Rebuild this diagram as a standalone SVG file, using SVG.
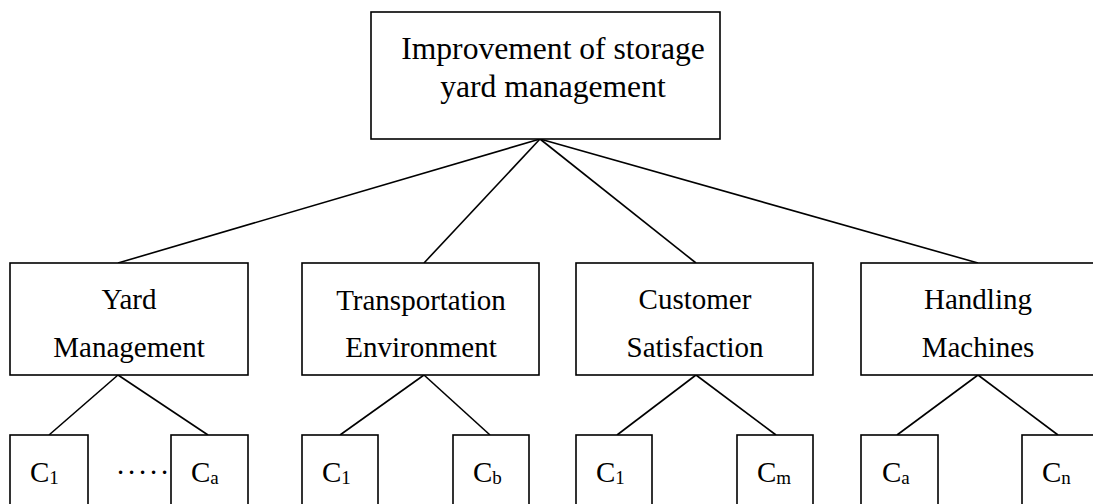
<svg xmlns="http://www.w3.org/2000/svg" width="1093" height="504" viewBox="0 0 1093 504">
<style>
rect{fill:#fff;stroke:#000;stroke-width:1.6}
line{stroke:#000;stroke-width:1.6}
text{font-family:"Liberation Serif","Times New Roman",serif;fill:#000}
.t{font-size:31.6px;text-anchor:middle}
.m{font-size:29px;text-anchor:middle}
.c{font-size:29px}
.s{font-size:19px}
</style>
<rect width="1093" height="504" style="fill:#fff;stroke:none"/>
<g id="connectors">
<line x1="540" y1="139" x2="118" y2="263"/>
<line x1="540" y1="139" x2="424" y2="263"/>
<line x1="540" y1="139" x2="696" y2="263"/>
<line x1="540" y1="139" x2="978" y2="263"/>
<line x1="118" y1="375" x2="49" y2="435"/>
<line x1="118" y1="375" x2="208" y2="435"/>
<line x1="424" y1="375" x2="340" y2="435"/>
<line x1="424" y1="375" x2="490" y2="435"/>
<line x1="696" y1="375" x2="617" y2="435"/>
<line x1="696" y1="375" x2="776" y2="435"/>
<line x1="978" y1="375" x2="897" y2="435"/>
<line x1="978" y1="375" x2="1058" y2="435"/>
</g>
<g id="root">
<rect x="371" y="12" width="349" height="127"/>
<text class="t" x="553" y="59">Improvement of storage</text>
<text class="t" x="553" y="97">yard management</text>
</g>
<g id="yard">
<rect x="10" y="263" width="238" height="112"/>
<text class="m" x="129" y="309">Yard</text>
<text class="m" x="129" y="357">Management</text>
</g>
<g id="transport">
<rect x="302" y="263" width="237" height="112"/>
<text class="m" x="421" y="310">Transportation</text>
<text class="m" x="421" y="357">Environment</text>
</g>
<g id="customer">
<rect x="576" y="263" width="237" height="112"/>
<text class="m" x="695" y="309">Customer</text>
<text class="m" x="695" y="357">Satisfaction</text>
</g>
<g id="handling">
<rect x="861" y="263" width="240" height="112"/>
<text class="m" x="978" y="309">Handling</text>
<text class="m" x="978" y="357">Machines</text>
</g>
<g id="yard-c1">
<rect x="10" y="435" width="78" height="80"/>
<text class="c" x="30" y="482">C<tspan class="s" dy="2">1</tspan></text>
</g>
<g id="yard-dots">
<text class="m" x="120.5 131.5 142.5 153.5 164.5" y="482">·····</text>
</g>
<g id="yard-ca">
<rect x="171" y="435" width="77" height="80"/>
<text class="c" x="191" y="482">C<tspan class="s" dy="2">a</tspan></text>
</g>
<g id="trans-c1">
<rect x="302" y="435" width="76" height="80"/>
<text class="c" x="322" y="482">C<tspan class="s" dy="2">1</tspan></text>
</g>
<g id="trans-cb">
<rect x="453" y="435" width="76" height="80"/>
<text class="c" x="473" y="482">C<tspan class="s" dy="2">b</tspan></text>
</g>
<g id="cust-c1">
<rect x="576" y="435" width="76" height="80"/>
<text class="c" x="596" y="482">C<tspan class="s" dy="2">1</tspan></text>
</g>
<g id="cust-cm">
<rect x="737" y="435" width="76" height="80"/>
<text class="c" x="757" y="482">C<tspan class="s" dy="2">m</tspan></text>
</g>
<g id="hand-ca">
<rect x="861" y="435" width="77" height="80"/>
<text class="c" x="882" y="482">C<tspan class="s" dy="2">a</tspan></text>
</g>
<g id="hand-cn">
<rect x="1022" y="435" width="90" height="80"/>
<text class="c" x="1042" y="482">C<tspan class="s" dy="2">n</tspan></text>
</g>
</svg>
